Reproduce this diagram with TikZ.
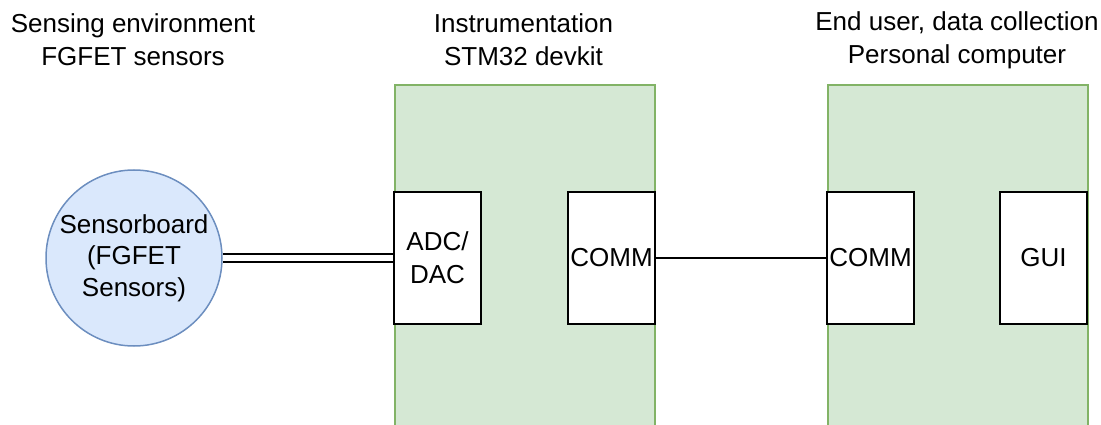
\documentclass[tikz,border=0pt]{standalone}
\usepackage{fontspec}
\setmainfont{Liberation Sans}
\usetikzlibrary{positioning}
\definecolor{grfill}{HTML}{D5E8D4}
\definecolor{grline}{HTML}{82B366}
\definecolor{blfill}{HTML}{DAE8FC}
\definecolor{blline}{HTML}{6C8EBF}

\begin{document}
\begin{tikzpicture}[
    x=1pt,y=-1pt,
    font=\fontsize{26}{33}\selectfont,
    group/.style={draw=grline,fill=grfill,line width=2pt,minimum width=260pt,minimum height=380pt,anchor=north west,inner sep=0pt},
    unit/.style={draw,fill=white,line width=2pt,minimum width=87pt,minimum height=131pt,inner sep=0pt,align=center},
    sensor/.style={circle,draw=blline,fill=blfill,line width=1.5pt,minimum size=176pt,inner sep=0pt,align=center,font=\fontsize{26}{31.5}\selectfont},
    title/.style={align=center},
    link/.style={line width=2pt}
  ]
    \clip (0,0) rectangle (1101,425);
    \node[group] (stm) at (394,84) {};
    \node[group] (pc) at (827,84) {};
    \node[title] (t1) at (133,40) {Sensing environment\\FGFET sensors};
    \node[title] (t2) at (523.5,40) {Instrumentation\\STM32 devkit};
    \node[title] (t3) at (957,40) {End user, data collection\\Personal computer};
    \node[sensor] (board) at (134,258) {Sensorboard\\(FGFET\\Sensors)};
    \node[unit] (adc) at (437.5,258) {ADC/\\DAC};
    \node[unit,right=85pt of adc] (comma) {COMM};
    \node[unit] (commb) at (870.5,258) {COMM};
    \node[unit,right=84pt of commb] (gui) {GUI};
    \draw[link,double,double distance=6pt] (board) -- (adc);
    \draw[link] (comma) -- (commb);
  \end{tikzpicture}
\end{document}
